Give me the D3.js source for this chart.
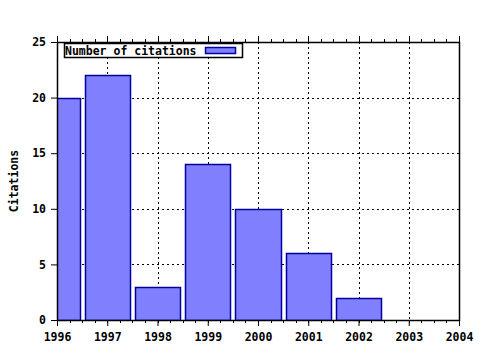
<!DOCTYPE html>
<html>
<head>
<meta charset="utf-8">
<script src="https://cdn.jsdelivr.net/npm/d3@7"></script>
<style>
  body { margin: 0; background: #fff; }
  text { font-family: "DejaVu Sans Mono", monospace; font-weight: bold; font-size: 11.5px; }
</style>
</head>
<body>
<div id="chart"></div>
<script>
// data
const years = [1996, 1997, 1998, 1999, 2000, 2001, 2002, 2003];
const citations = [20, 22, 3, 14, 10, 6, 2, 0];
const xTicks = [1996, 1997, 1998, 1999, 2000, 2001, 2002, 2003, 2004];
const yTicks = [0, 5, 10, 15, 20, 25];
const seriesName = "Number of citations";

const W = 480, H = 350;
const margin = { top: 42, right: 21, bottom: 30, left: 57 };
const width = W - margin.left - margin.right,
      height = H - margin.top - margin.bottom;

const svg = d3.select("#chart").append("svg")
  .attr("width", W).attr("height", H);

const g = svg.append("g")
  .attr("transform", `translate(${margin.left},${margin.top})`);

const x = d3.scaleLinear().domain([1996, 2004]).range([0, width]);
const y = d3.scaleLinear().domain([0, 25]).range([height, 0]);

// grid
const grid = g.append("g").attr("stroke", "#000").attr("stroke-dasharray", "2,3").attr("shape-rendering", "crispEdges");
grid.selectAll(".gx").data(xTicks.slice(1, -1)).join("line")
  .attr("x1", d => Math.round(x(d)) + 0.5).attr("x2", d => Math.round(x(d)) + 0.5)
  .attr("y1", 0).attr("y2", height);
grid.selectAll(".gy").data(yTicks.slice(1, -1)).join("line")
  .attr("x1", 0).attr("x2", width)
  .attr("y1", d => Math.round(y(d)) + 0.5).attr("y2", d => Math.round(y(d)) + 0.5);

// bars, clipped to the plot area
svg.append("defs").append("clipPath").attr("id", "clip")
  .append("rect").attr("width", width).attr("height", height + 1);

const bw = 0.9;
g.append("g").attr("clip-path", "url(#clip)")
  .selectAll("rect").data(years.map((yr, i) => ({ yr, v: citations[i] })).filter(d => d.v > 0))
  .join("rect")
  .attr("x", d => Math.round(x(d.yr - bw / 2)) + 0.5)
  .attr("width", d => Math.round(x(d.yr + bw / 2)) - Math.round(x(d.yr - bw / 2)))
  .attr("y", d => Math.round(y(d.v)) + 0.5)
  .attr("height", d => Math.round(y(0)) - Math.round(y(d.v)))
  .attr("fill", "#8080ff")
  .attr("stroke", "#0000a0")
  .attr("stroke-width", 1.5);

// axes
const xMinor = d3.range(1996, 2004.01, 0.25);
const xAxis = d3.axisBottom(x).tickValues(xTicks).tickFormat(d3.format("d")).tickSize(6).tickPadding(7);
const gx = g.append("g").attr("transform", `translate(0,${height})`).call(xAxis);
gx.select(".domain").remove();
gx.selectAll("text").attr("fill", "#000");

const minorB = g.append("g").attr("stroke", "#000");
minorB.selectAll("line").data(xMinor).join("line")
  .attr("x1", d => Math.round(x(d)) + 0.5).attr("x2", d => Math.round(x(d)) + 0.5)
  .attr("y1", height).attr("y2", height + 3);
const minorT = g.append("g").attr("stroke", "#000");
minorT.selectAll("line").data(xMinor).join("line")
  .attr("x1", d => Math.round(x(d)) + 0.5).attr("x2", d => Math.round(x(d)) + 0.5)
  .attr("y1", 0).attr("y2", d => Number.isInteger(d) ? -6 : -3);

const yAxis = d3.axisLeft(y).tickValues(yTicks).tickSize(6).tickPadding(5);
const gy = g.append("g").call(yAxis);
gy.select(".domain").remove();
gy.selectAll("text").attr("fill", "#000");

// frame
g.append("rect").attr("x", 0.5).attr("y", 0.5)
  .attr("width", width).attr("height", height)
  .attr("fill", "none").attr("stroke", "#000").attr("stroke-width", 1.5);

// y label
svg.append("text")
  .attr("transform", `translate(18,${margin.top + height / 2}) rotate(-90)`)
  .attr("text-anchor", "middle")
  .text("Citations");

// legend
const lg = g.append("g").attr("transform", "translate(7,1)");
lg.append("rect").attr("x", 0.5).attr("y", 0.5).attr("width", 178).attr("height", 14)
  .attr("fill", "#fff").attr("stroke", "#000").attr("stroke-width", 1.5);
lg.append("text").attr("x", 1).attr("y", 11.5).text(seriesName);
lg.append("rect").attr("x", 141.5).attr("y", 4.5).attr("width", 30).attr("height", 6)
  .attr("fill", "#8080ff").attr("stroke", "#0000a0").attr("stroke-width", 1.5);
</script>
</body>
</html>
